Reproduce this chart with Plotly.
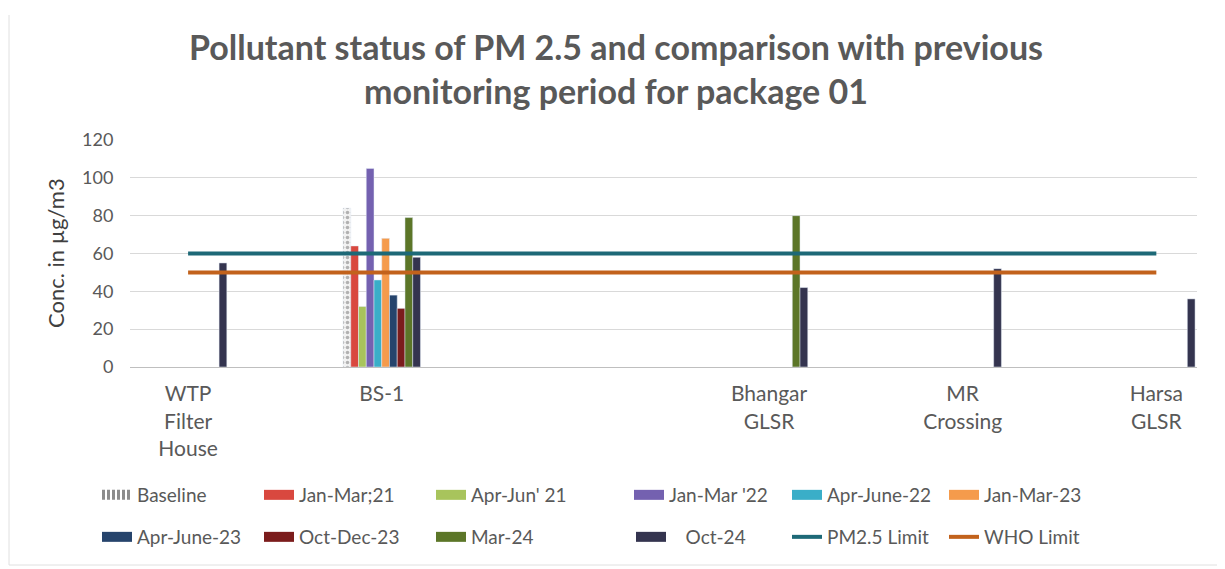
import plotly.graph_objects as go

# ---------------------------------------------------------------------------
# Data (PM 2.5, package 01)
# ---------------------------------------------------------------------------
sites = ["WTP<br>Filter<br>House", "BS-1", " ", "Bhangar<br>GLSR", "MR<br>Crossing", "Harsa<br>GLSR"]

baseline     = [None, 84, None, None, None, None]
jan_mar_21   = [None, 64, None, None, None, None]
apr_jun_21   = [None, 32, None, None, None, None]
jan_mar_22   = [None, 105, None, None, None, None]
apr_june_22  = [None, 46, None, None, None, None]
jan_mar_23   = [None, 68, None, None, None, None]
apr_june_23  = [None, 38, None, None, None, None]
oct_dec_23   = [None, 31, None, None, None, None]
mar_24       = [None, 79, None, 80, None, None]
oct_24       = [55, 58, None, 42, 52, 36]

pm25_limit = [60, 60, 60, 60, 60, 60]
who_limit  = [50, 50, 50, 50, 50, 50]

# series name, values, colour
bar_series = [
    ("Baseline", baseline, "#d9d9d9"),
    ("Jan-Mar;21", jan_mar_21, "#d9483f"),
    ("Apr-Jun' 21", apr_jun_21, "#a8c45c"),
    ("Jan-Mar '22", jan_mar_22, "#7461b0"),
    ("Apr-June-22", apr_june_22, "#3aaec8"),
    ("Jan-Mar-23", jan_mar_23, "#f59b4c"),
    ("Apr-June-23", apr_june_23, "#26446c"),
    ("Oct-Dec-23", oct_dec_23, "#7b1c1c"),
    ("Mar-24", mar_24, "#5c7628"),
    ("\u00a0\u00a0\u00a0Oct-24", oct_24, "#34344f"),
]

# ---------------------------------------------------------------------------
# Layout helpers. The page body has an 8px margin, so screen positions are
# shifted by OFF relative to the figure's own pixels.
# ---------------------------------------------------------------------------
OFF = 8
W, H = 1225 - OFF, 569 - OFF                       # fill the window to its edge
L, T = 130 - OFF, 140 - OFF                        # plot area starts at screen (130, 140)
R, B = W - (1197 - OFF), H - (367 - OFF)           # ... and ends at screen (1197, 367)
PW, PH = W - L - R, H - T - B

def px_x(x):
    """screen x -> paper x"""
    return (x - OFF - L) / PW

def px_y(y):
    """screen y -> paper y"""
    return (H - B - (y - OFF)) / PH

FONT = "Lato"
GREY = "#595959"

# Excel-style legend: 6 columns x 2 rows, text start (screen px) / row centre (screen px)
LEG_TEXT_X = [138, 300, 472, 670, 828, 985]
LEG_ROW_Y = [495, 537]
LEG_ORDER = ["Baseline", "Jan-Mar;21", "Apr-Jun' 21", "Jan-Mar '22", "Apr-June-22", "Jan-Mar-23",
             "Apr-June-23", "Oct-Dec-23", "Mar-24", "\u00a0\u00a0\u00a0Oct-24", "PM2.5 Limit", "WHO Limit"]

def legend_id(name):
    i = LEG_ORDER.index(name)
    return "legend" if i == 0 else f"legend{i + 1}"

fig = go.Figure()

for name, vals, col in bar_series:
    marker = dict(color=col)
    if name == "Baseline":
        # Excel pattern fill for the baseline series
        marker = dict(color="#f2f2f2",
                      pattern=dict(shape=".", fgcolor="#6f6f6f", size=5, solidity=0.4))
    fig.add_trace(go.Bar(name=name, x=sites, y=vals, marker=marker, showlegend=False))
    # wide swatch for the legend (Excel draws long rectangles, not squares)
    swatch = dict(color=col if name != "Baseline" else "#8c8c8c", width=10)
    if name == "Baseline":
        swatch["dash"] = "3px,2px"
    fig.add_trace(go.Scatter(name=name, x=[None], y=[None], mode="lines", line=swatch,
                             legend=legend_id(name), hoverinfo="skip"))

fig.add_trace(go.Scatter(name="PM2.5 Limit", x=sites, y=pm25_limit, mode="lines",
                         line=dict(color="#1d6977", width=4), legend=legend_id("PM2.5 Limit")))
fig.add_trace(go.Scatter(name="WHO Limit", x=sites, y=who_limit, mode="lines",
                         line=dict(color="#c2621c", width=4), legend=legend_id("WHO Limit")))

# one small legend per entry, placed on the canvas (margins are fixed below)
legends = {}
for i, name in enumerate(LEG_ORDER):
    tx = LEG_TEXT_X[i % 6]
    if name.endswith("Oct-24"):
        tx = 672
    legends[legend_id(name)] = dict(
        xref="container", yref="container",
        x=(tx - 49) / W, xanchor="left",
        y=1 - (LEG_ROW_Y[i // 6] - OFF) / H, yanchor="middle",
        font=dict(size=19, color=GREY),
        bgcolor="rgba(0,0,0,0)",
    )

fig.update_layout(
    width=W, height=H,
    margin=dict(l=L, r=R, t=T, b=B, autoexpand=False),
    paper_bgcolor="white",
    plot_bgcolor="white",
    font=dict(family=FONT, color=GREY),
    barmode="group",
    bargap=0.6,
    bargroupgap=0,
    title=dict(
        text="<b>Pollutant status of PM 2.5 and comparison with previous<br>monitoring period for package 01</b>",
        xref="container", x=(616 - OFF) / W, xanchor="center",
        yref="container", y=1 - 52 / H, yanchor="top",
        font=dict(size=34, color=GREY),
    ),
    xaxis=dict(
        type="category",
        range=[-0.30, 5.21],
        showgrid=False,
        showline=True, linecolor="#bfbfbf", linewidth=1,
        ticks="",
        ticklabelstandoff=8,
        automargin=False,
        tickfont=dict(size=21, color=GREY),
    ),
    yaxis=dict(
        range=[0, 120],
        dtick=20,
        showgrid=True, gridcolor="#d9d9d9", gridwidth=1,
        zeroline=False,
        automargin=False,
        # invisible ticks just to keep the labels off the plot edge
        ticks="outside", ticklen=12, tickcolor="rgba(0,0,0,0)",
        tickfont=dict(size=18, color=GREY),
    ),
    # y-axis title as a rotated annotation (axis title placement misbehaves with fixed margins)
    annotations=[dict(text="Conc. in µg/m3", textangle=-90,
                      xref="paper", yref="paper", x=px_x(55), y=px_y(253),
                      xanchor="center", yanchor="middle", showarrow=False,
                      font=dict(size=22, color="#404040"))],
    # faint chart-area border on the left and bottom, as in the exported image
    shapes=[
        dict(type="line", xref="paper", yref="paper",
             x0=px_x(9), x1=px_x(9), y0=px_y(565), y1=px_y(15),
             line=dict(color="#e0e0e0", width=1)),
        dict(type="line", xref="paper", yref="paper",
             x0=px_x(9), x1=px_x(1225), y0=px_y(565), y1=px_y(565),
             line=dict(color="#e0e0e0", width=1)),
    ],
    **legends,
)

fig.write_html("out.html")
